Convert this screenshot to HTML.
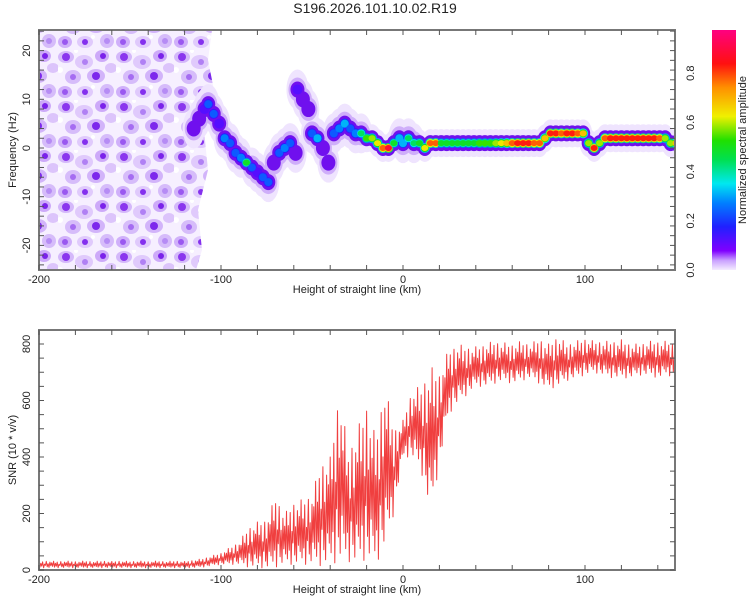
<!DOCTYPE html>
<html><head><meta charset="utf-8">
<style>
body{margin:0;background:#fff;}
svg{display:block;font-family:"Liberation Sans",sans-serif;}
</style></head>
<body>
<svg id="chart" width="750" height="600" viewBox="0 0 750 600">
<defs>
<linearGradient id="cbar" x1="0" y1="1" x2="0" y2="0">
<stop offset="0" stop-color="#f4ecff"/>
<stop offset="0.04" stop-color="#c9a0ff"/>
<stop offset="0.08" stop-color="#8000ff"/>
<stop offset="0.18" stop-color="#2020ff"/>
<stop offset="0.28" stop-color="#0080ff"/>
<stop offset="0.36" stop-color="#00e8f0"/>
<stop offset="0.46" stop-color="#00e050"/>
<stop offset="0.54" stop-color="#20e000"/>
<stop offset="0.64" stop-color="#f0f000"/>
<stop offset="0.76" stop-color="#ff9000"/>
<stop offset="0.86" stop-color="#ff1010"/>
<stop offset="1" stop-color="#ff0080"/>
</linearGradient>
<pattern id="noise" width="58" height="50" patternUnits="userSpaceOnUse">
<rect width="58" height="50" fill="#f6efff"/>
<ellipse cx="8" cy="7" rx="8" ry="6" fill="#d4b8fa"/>
<circle cx="8" cy="7" r="4" fill="#8a36ee"/>
<ellipse cx="26" cy="12" rx="9" ry="7" fill="#e0cafc"/>
<circle cx="27" cy="12" r="3" fill="#b080f4"/>
<ellipse cx="44" cy="6" rx="7" ry="6" fill="#cdaaf9"/>
<circle cx="45" cy="6" r="3" fill="#7a22ea"/>
<ellipse cx="15" cy="27" rx="8" ry="7" fill="#d6bcfa"/>
<circle cx="15" cy="27" r="3" fill="#a56cf2"/>
<ellipse cx="38" cy="26" rx="9" ry="7" fill="#d2b4fa"/>
<circle cx="38" cy="26" r="4" fill="#7c28ec"/>
<ellipse cx="53" cy="18" rx="6" ry="5" fill="#dcc4fb"/>
<ellipse cx="7" cy="42" rx="7" ry="6" fill="#d0b0fa"/>
<circle cx="7" cy="42" r="3" fill="#9a58f0"/>
<ellipse cx="27" cy="42" rx="8" ry="6" fill="#e0cafc"/>
<circle cx="27" cy="42" r="3" fill="#8430ee"/>
<ellipse cx="49" cy="41" rx="7" ry="7" fill="#d6bcfa"/>
<circle cx="49" cy="41" r="3" fill="#b68cf5"/>
<circle cx="2" cy="20" r="3" fill="#ffffff"/>
<circle cx="35" cy="37" r="2" fill="#ffffff"/>
<circle cx="18" cy="1" r="2" fill="#ffffff"/>
</pattern>
<clipPath id="plotclip"><rect x="39" y="30" width="636" height="240"/></clipPath>
<clipPath id="plotclip2"><rect x="39" y="330" width="636" height="240"/></clipPath>
</defs>

<text x="375" y="13" text-anchor="middle" font-size="14" fill="#222">S196.2026.101.10.02.R19</text>

<g id="spec" clip-path="url(#plotclip)">
<polygon points="39,30 212,30 208,60 214,90 204,130 208,170 198,210 202,250 196,270 39,270" fill="url(#noise)"/>
</g>
<g id="axes1"></g>

<rect x="712" y="30" width="24" height="240" fill="url(#cbar)"/>
<g id="cbticks"></g>
<text transform="translate(746,150) rotate(-90)" text-anchor="middle" font-size="11" fill="#222">Normalized spectral amplitude</text>

<g id="snr" clip-path="url(#plotclip2)"></g>
<g id="axes2"></g>

<text x="357" y="293" text-anchor="middle" font-size="11" fill="#222">Height of straight line (km)</text>
<text transform="translate(16,150) rotate(-90)" text-anchor="middle" font-size="11" fill="#222">Frequency (Hz)</text>
<text x="357" y="593" text-anchor="middle" font-size="11" fill="#222">Height of straight line (km)</text>
<text transform="translate(16,450) rotate(-90)" text-anchor="middle" font-size="11" fill="#222">SNR (10 * v/v)</text>
</svg>
<script>
const ridgeHeights=[-115,-112,-109,-107,-104,-101,-98,-95,-92,-89,-86,-83,-80,-77,-74,-71,-68,-65,-62,-59,-58,-55,-52,-50,-47,-44,-41,-38,-35,-32,-29,-26,-23,-20,-17,-14,-11,-8,-5,-2,0,3,6,9,12,15,18,21,24,27,30,33,36,39,42,45,48,51,54,57,60,63,66,69,72,75,78,81,84,87,90,93,96,99,102,105,108,111,114,117,120,123,126,129,132,135,138,141,144,147,150];
const ridgeFreqs=[4,6,8,9,7,5,2,1,-1,-2,-3,-4,-5,-6,-7,-3,-1,0,1,-1,12,10,8,3,2,0,-3,3,4,5,4,3,3,2,2,1,0,0,1,2,1,2,1,1,0,1,1,1,1,1,1,1,1,1,1,1,1,1,1,1,1,1,1,1,1,1,2,3,3,3,3,3,3,3,1,0,1,2,2,2,2,2,2,2,2,2,2,2,2,1,1,1];
const ridgeAmps=[0.15,0.2,0.25,0.3,0.3,0.25,0.35,0.3,0.3,0.35,0.5,0.3,0.25,0.3,0.3,0.2,0.3,0.35,0.3,0.2,0.25,0.2,0.2,0.3,0.4,0.2,0.2,0.3,0.35,0.4,0.3,0.35,0.45,0.55,0.6,0.65,0.8,0.9,0.5,0.4,0.4,0.45,0.45,0.5,0.65,0.8,0.8,0.5,0.5,0.5,0.5,0.5,0.5,0.5,0.55,0.55,0.55,0.6,0.65,0.7,0.8,0.85,0.85,0.85,0.8,0.8,0.7,0.85,0.85,0.8,0.85,0.85,0.8,0.7,0.6,0.85,0.6,0.8,0.85,0.85,0.85,0.85,0.85,0.85,0.85,0.85,0.85,0.8,0.6,0.6,0.7,0.7];

const snrHeights=[-200,-195,-190,-185,-180,-175,-170,-165,-160,-155,-150,-145,-140,-135,-130,-125,-120,-115,-110,-105,-100,-95,-90,-85,-80,-75,-70,-65,-60,-55,-50,-45,-40,-35,-30,-25,-20,-15,-10,-5,0,5,10,15,20,25,30,35,40,45,50,55,60,65,70,75,80,85,90,95,100,105,110,115,120,125,130,135,140,145,150];
const snrLow=[8,8,8,8,8,8,8,8,8,8,8,8,8,8,8,8,8,8,10,15,20,20,20,10,10,5,10,20,20,20,20,15,20,30,30,20,40,20,80,200,400,400,350,200,370,550,590,620,650,650,660,670,660,670,680,660,640,650,670,680,690,700,690,680,680,680,690,690,680,690,680];
const snrHigh=[30,32,30,32,30,32,30,32,30,32,30,32,30,32,30,32,30,35,40,50,60,80,100,150,170,180,260,200,240,250,270,380,400,640,420,500,590,470,660,500,530,640,650,720,700,780,800,790,790,800,810,805,800,810,800,820,800,830,800,810,820,810,810,810,815,800,800,810,810,810,800];

const NS='http://www.w3.org/2000/svg';
const xS=h=>403+1.82*h;
const yF=f=>148-4.87*f;
const yS=v=>570-0.2825*v;
function mk(tag,attrs,parent){const e=document.createElementNS(NS,tag);for(const k in attrs)e.setAttribute(k,attrs[k]);parent.appendChild(e);return e;}
const stops=[[0,[244,236,255]],[0.04,[201,160,255]],[0.08,[128,0,255]],[0.18,[32,32,255]],[0.28,[0,128,255]],[0.36,[0,232,240]],[0.46,[0,224,80]],[0.54,[32,224,0]],[0.64,[240,240,0]],[0.76,[255,144,0]],[0.86,[255,16,16]],[1,[255,0,128]]];
function cmap(a){for(let i=1;i<stops.length;i++){if(a<=stops[i][0]){const t=(a-stops[i-1][0])/(stops[i][0]-stops[i-1][0]);const c=stops[i-1][1].map((v,j)=>Math.round(v+t*(stops[i][1][j]-v)));return `rgb(${c})`;}}return 'rgb(255,0,128)';}

const spec=document.getElementById('spec');
// wide faint halo for the scattered (weak) part of the ridge
ridgeHeights.forEach((h,i)=>{
  const weak=ridgeAmps[i]<0.5;
  const e=mk('ellipse',{cx:xS(h),cy:yF(ridgeFreqs[i]),rx:weak?11:9,ry:weak?20:14,fill:'#efe4fe'},spec);
  
  
});
ridgeHeights.forEach((h,i)=>{
  if(ridgeAmps[i]>=0.5)return;
  const e=mk('ellipse',{cx:xS(h),cy:yF(ridgeFreqs[i]),rx:9,ry:12,fill:'#cfaefa'},spec);
  
  
});
// layers: [fraction of amplitude, rx, ry, minAmp]
const layers=[[0.09,7,8,0],[0.5,5,5,0.25],[0.8,4,4,0.3],[1.0,3.5,3,0.45]];
layers.forEach(([frac,rx,ry,minA])=>{
  ridgeHeights.forEach((h,i)=>{
    const a=ridgeAmps[i];
    if(a<minA)return;
    const col=frac<0.1?'#7010ee':cmap(a*frac);
    const e=mk('ellipse',{cx:xS(h),cy:yF(ridgeFreqs[i]),rx:rx,ry:ry,fill:col},spec);
    
    
  });
});

function axes(g,y0,y1,yticks,ylabels,yfn){
  const G=document.getElementById(g);
  const fr=mk('rect',{x:39,y:y0,width:636,height:y1-y0,fill:'none',stroke:'#777','stroke-width':2},G);
  
  
  for(let h=-200;h<=150;h+=20){const x=xS(h);mk('line',{x1:x,y1:y1,x2:x,y2:y1-5,stroke:'#555'},G);mk('line',{x1:x,y1:y0,x2:x,y2:y0+5,stroke:'#555'},G);}
  [-200,-100,0,100].forEach(h=>{const t=mk('text',{x:xS(h),y:y1+13,'text-anchor':'middle','font-size':11,fill:'#222'},G);t.textContent=h;});
  yticks.forEach(v=>{const y=yfn(v);mk('line',{x1:39,y1:y,x2:44,y2:y,stroke:'#555'},G);mk('line',{x1:675,y1:y,x2:670,y2:y,stroke:'#555'},G);});
  ylabels.forEach(v=>{const y=yfn(v);const t=mk('text',{transform:`translate(30,${y}) rotate(-90)`,'text-anchor':'middle','font-size':11,fill:'#222'},G);t.textContent=v;});
}
const fTicks=[];for(let f=-24;f<=24;f+=2)fTicks.push(f);
axes('axes1',30,270,fTicks,[-20,-10,0,10,20],yF);
const sTicks=[];for(let v=0;v<=800;v+=50)sTicks.push(v);
axes('axes2',330,570,sTicks,[0,200,400,600,800],yS);

const cbLabels=['0.0','0.2','0.4','0.6','0.8'];
const cb=document.getElementById('cbticks');
cbLabels.forEach(l=>{const y=270-parseFloat(l)*246;const t=mk('text',{transform:`translate(694,${y}) rotate(-90)`,'text-anchor':'middle','font-size':11,fill:'#222'},cb);t.textContent=l;});

const snr=document.getElementById('snr');
const shape=[1,0.1,0.7,0.25,0.9,0.0,0.55,0.35,0.95,0.15,0.6,0.05,0.85,0.3,0.75,0.2];
let pts=[];
let n=0;
for(let i=0;i<snrHeights.length-1;i++){
  for(let k=0;k<10;k++){
    const h=snrHeights[i]+k*0.5;const t=k/10;
    const lo=snrLow[i]+t*(snrLow[i+1]-snrLow[i]);
    const hi=snrHigh[i]+t*(snrHigh[i+1]-snrHigh[i]);
    const v=lo+(hi-lo)*shape[n%shape.length];
    n++;
    pts.push(xS(h).toFixed(1)+','+yS(v).toFixed(1));
  }
}
pts.push(xS(150)+','+yS(snrLow[snrLow.length-1]));
const line=mk('polyline',{points:pts.join(' '),fill:'none',stroke:'#ee2a2a','stroke-width':1,'stroke-linejoin':'round','stroke-opacity':0.9},snr);


</script>
</body></html>
